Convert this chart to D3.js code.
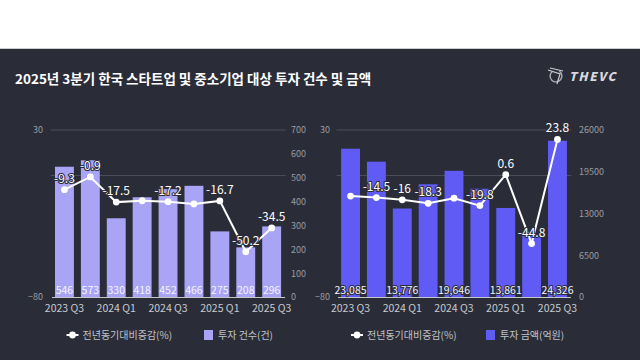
<!DOCTYPE html>
<html>
<head>
<meta charset="utf-8">
<script src="https://cdn.jsdelivr.net/npm/d3@7"></script>
<style>
  html, body { margin: 0; padding: 0; background: #ffffff; }
  svg { display: block; }
  text { font-family: "Noto Sans CJK KR", "Noto Sans", sans-serif; }
</style>
</head>
<body>
<svg id="chart" width="640" height="360"></svg>
<script>
// ---------- data ----------
const quarters = ["2023 Q3","2023 Q4","2024 Q1","2024 Q2","2024 Q3","2024 Q4","2025 Q1","2025 Q2","2025 Q3"];
const xTickLabels = ["2023 Q3","2024 Q1","2024 Q3","2025 Q1","2025 Q3"];

const dealCounts = [546, 573, 330, 418, 452, 466, 275, 208, 296];
const countYoY = [-9.3, -0.9, -17.5, -16.6, -17.2, -18.7, -16.7, -50.2, -34.5];
const countYoYLabelShown = [true, true, true, false, true, false, true, true, true];

const dealAmounts = [23085, 21065, 13776, 17546, 19646, 16850, 13861, 9685, 24326];
const amountYoY = [-13.5, -14.5, -16, -18.3, -14.9, -19.8, 0.6, -44.8, 23.8];
const amountYoYLabelShown = [false, true, true, true, false, true, true, true, true];
const amountBarLabelShown = [true, false, true, false, true, false, true, false, true];

const pctTicks = [30, -80];
const pctGrid = [30, 0];
const countTicks = [0, 100, 200, 300, 400, 500, 600, 700];
const amountTicks = [0, 6500, 13000, 19500, 26000];

const title = "2025년 3분기 한국 스타트업 및 중소기업 대상 투자 건수 및 금액";
const legendLine = "전년동기대비증감(%)";
const legendCount = "투자 건수(건)";
const legendAmount = "투자 금액(억원)";

// ---------- drawing ----------
const svg = d3.select("#chart");
const BG = "#2a2d38";

svg.append("rect").attr("x", 0).attr("y", 48).attr("width", 640).attr("height", 1).attr("fill", "#c9ccd1");
svg.append("rect").attr("x", 0).attr("y", 49).attr("width", 640).attr("height", 311).attr("fill", BG);

svg.append("text").attr("x", 15).attr("y", 83.5)
  .attr("fill", "#ffffff").attr("font-size", 13.5).attr("font-weight", 700)
  .text(title);

// logo
const logo = svg.append("g").attr("transform", "translate(556,76)");
logo.append("path").attr("d", d3.arc()({innerRadius: 5.2, outerRadius: 6.6, startAngle: 0.6, endAngle: 5.6}))
  .attr("fill", "#a9acb3");
logo.append("path").attr("d", "M-8,-6 L4,-2 L1,8 M-6,-8 L7,-5")
  .attr("stroke", "#c9cbd0").attr("stroke-width", 1.2).attr("fill", "none");
svg.append("text").attr("x", 569).attr("y", 80.5)
  .attr("fill", "#d8d9dd").attr("font-size", 12).attr("font-weight", 900)
  .attr("font-style", "italic").attr("letter-spacing", 1.6)
  .attr("font-family", "'DejaVu Sans', sans-serif")
  .text("THEVC");

function drawPanel(cfg) {
  const g = svg.append("g");
  const x = d3.scaleBand().domain(quarters).range(cfg.xRange).paddingInner(0.27).paddingOuter(0.135);
  const yPct = d3.scaleLinear().domain([-80, 30]).range([297, 130]);
  const yBar = d3.scaleLinear().domain(cfg.barDomain).range([297, 130]);
  const cx = i => x(quarters[i]) + x.bandwidth() / 2;

  // grid
  g.selectAll("line.grid").data(pctGrid).join("line")
    .attr("x1", cfg.xRange[0] - 1).attr("x2", cfg.xRange[1] + 1)
    .attr("y1", d => yPct(d)).attr("y2", d => yPct(d))
    .attr("stroke", "#4c4f59").attr("stroke-width", 1);

  // left pct axis
  const la = g.append("g").attr("transform", `translate(${cfg.leftAxisX},0)`)
    .call(d3.axisLeft(yPct).tickValues(pctTicks).tickSize(0).tickPadding(0));
  la.select(".domain").remove();
  la.selectAll("text").attr("fill", "#9a9ca3").attr("font-size", 9).attr("font-family", "'Noto Sans', sans-serif");

  // right bar axis
  const ra = g.append("g").attr("transform", `translate(${cfg.rightAxisX},0)`)
    .call(d3.axisRight(yBar).tickValues(cfg.barTicks).tickSize(0).tickPadding(0).tickFormat(d3.format("d")));
  ra.select(".domain").remove();
  ra.selectAll("text").attr("fill", "#9a9ca3").attr("font-size", 9).attr("font-family", "'Noto Sans', sans-serif");

  // bars
  const bars = cfg.barValues.map((v, i) => ({v, i}));
  g.selectAll("rect.bar").data(bars).join("rect")
    .attr("x", d => x(quarters[d.i]))
    .attr("width", x.bandwidth())
    .attr("y", d => yBar(d.v))
    .attr("height", d => yBar(0) - yBar(d.v))
    .attr("fill", cfg.barColor);

  // x axis
  const xa = g.append("g").attr("transform", "translate(0,297)")
    .call(d3.axisBottom(x).tickValues(xTickLabels).tickSize(0).tickPadding(8));
  xa.select(".domain").attr("stroke", "#c4c6cc").attr("stroke-width", 1.2);
  xa.selectAll("text").attr("fill", "#c8cad0").attr("font-size", 10.5).attr("font-family", "'Noto Sans', sans-serif");

  // bar value labels
  g.selectAll("text.barlab").data(bars.filter(d => cfg.barLabelShown[d.i])).join("text")
    .attr("x", d => cx(d.i))
    .attr("y", 294)
    .attr("text-anchor", "middle")
    .attr("font-size", 10.5)
    .attr("font-family", "'Noto Sans', sans-serif")
    .attr("fill", "#f4f4ff")
    .attr("stroke", cfg.barLabelStroke).attr("stroke-width", cfg.barLabelStrokeWidth)
    .attr("paint-order", "stroke")
    .text(d => cfg.barFormat(d.v));

  // line
  const pts = cfg.yoy.map((v, i) => ({v, i}));
  const line = d3.line().x(d => cx(d.i)).y(d => yPct(d.v));
  g.append("path").datum(pts).attr("d", line)
    .attr("fill", "none").attr("stroke", "#ffffff").attr("stroke-width", 2);
  g.selectAll("circle.pt").data(pts).join("circle")
    .attr("cx", d => cx(d.i)).attr("cy", d => yPct(d.v)).attr("r", 3.4)
    .attr("fill", "#ffffff");
  g.selectAll("text.ptlab").data(pts.filter(d => cfg.yoyLabelShown[d.i])).join("text")
    .attr("x", d => cx(d.i)).attr("y", d => yPct(d.v) - 7)
    .attr("text-anchor", "middle")
    .attr("font-size", 12)
    .attr("font-family", "'Noto Sans', sans-serif")
    .attr("fill", "#ffffff")
    .attr("stroke", BG).attr("stroke-width", 2).attr("paint-order", "stroke")
    .text(d => d.v);

  // legend
  const lg = g.append("g").attr("transform", "translate(0,335)");
  lg.append("line").attr("x1", cfg.legendX - 6).attr("x2", cfg.legendX + 6).attr("y1", 0).attr("y2", 0)
    .attr("stroke", "#ffffff").attr("stroke-width", 2);
  lg.append("circle").attr("cx", cfg.legendX).attr("cy", 0).attr("r", 3.4).attr("fill", "#ffffff");
  lg.append("text").attr("x", cfg.legendX + 10).attr("y", 0).attr("dy", "0.35em")
    .attr("font-size", 10).attr("fill", "#c0c2c8").text(legendLine);
  lg.append("rect").attr("x", cfg.legendSqX).attr("y", -5).attr("width", 9).attr("height", 10)
    .attr("fill", cfg.barColor);
  lg.append("text").attr("x", cfg.legendSqX + 14).attr("y", 0).attr("dy", "0.35em")
    .attr("font-size", 10).attr("fill", "#c0c2c8").text(cfg.legendBar);
}

drawPanel({
  xRange: [51.5, 284.6],
  leftAxisX: 43, rightAxisX: 291,
  barDomain: [0, 700], barTicks: countTicks,
  barValues: dealCounts, barColor: "#a9a4f6",
  barLabelShown: dealCounts.map(() => true),
  barLabelStroke: "none", barLabelStrokeWidth: 0,
  barFormat: d3.format("d"),
  yoy: countYoY, yoyLabelShown: countYoYLabelShown,
  legendX: 72.5, legendSqX: 204, legendBar: legendCount
});

drawPanel({
  xRange: [337.6, 570.4],
  leftAxisX: 330, rightAxisX: 579,
  barDomain: [0, 26000], barTicks: amountTicks,
  barValues: dealAmounts, barColor: "#615bf6",
  barLabelShown: amountBarLabelShown,
  barLabelStroke: BG, barLabelStrokeWidth: 2,
  barFormat: d3.format(","),
  yoy: amountYoY, yoyLabelShown: amountYoYLabelShown,
  legendX: 357, legendSqX: 486, legendBar: legendAmount
});
</script>
</body>
</html>
